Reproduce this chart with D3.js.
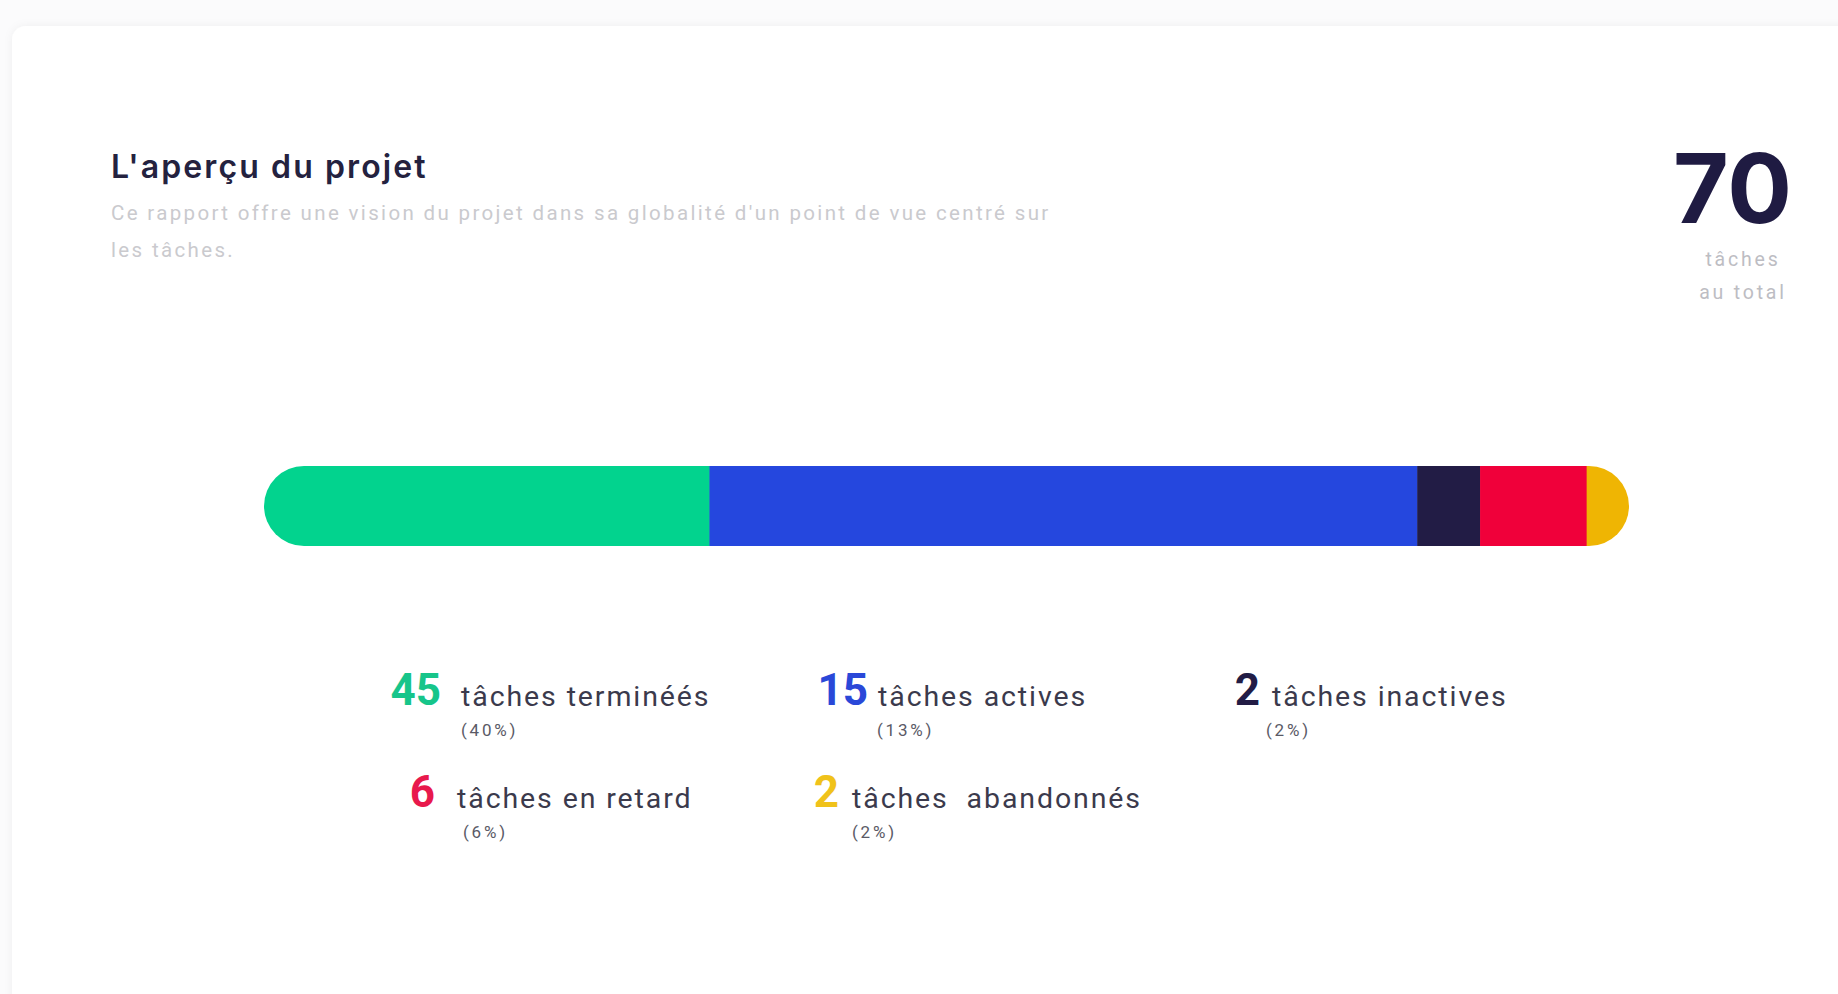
<!DOCTYPE html>
<html>
<head>
<meta charset="utf-8">
<script src="https://cdn.jsdelivr.net/npm/d3@7"></script>
<style>
  body { margin: 0; background: #fbfbfc; }
  svg { display: block; }
</style>
</head>
<body>
<svg id="chart" width="1838" height="994"></svg>
<script>
// data
var statusKeys   = ["done", "active", "inactive", "late", "dropped"];
var statusLabels = ["tâches terminéés", "tâches actives", "tâches inactives", "tâches en retard", "tâches  abandonnés"];
var statusCounts = [45, 15, 2, 6, 2];
var statusPct    = ["(40%)", "(13%)", "(2%)", "(6%)", "(2%)"];
// share of the bar each segment takes in the picture (in %)
var barShares    = [32.6, 51.8, 4.6, 7.8, 3.1];
var totalTasks   = 70;

var colors = {
  done: "#02d38e", active: "#2547de", inactive: "#221c45",
  late: "#f0003a", dropped: "#efb503"
};
var numColors = {
  done: "#17c58a", active: "#2a48d8", inactive: "#221c45",
  late: "#e8194c", dropped: "#f0c21a"
};

var svg = d3.select("#chart");

// card
var defs = svg.append("defs");
var f = defs.append("filter").attr("id", "shadow")
    .attr("x", "-5%").attr("y", "-5%").attr("width", "110%").attr("height", "110%");
f.append("feDropShadow").attr("dx", 0).attr("dy", 0).attr("stdDeviation", 4)
    .attr("flood-color", "#000").attr("flood-opacity", 0.05);

svg.append("rect")
    .attr("x", 12).attr("y", 26).attr("width", 1900).attr("height", 1100)
    .attr("rx", 14).attr("fill", "#fff").attr("filter", "url(#shadow)");

// header
svg.append("text")
    .attr("x", 111).attr("y", 178)
    .attr("font-family", "Inter, 'DejaVu Sans', sans-serif")
    .attr("font-size", 32).attr("font-weight", 600).attr("letter-spacing", 2.1)
    .attr("fill", "#24223f")
    .text("L'aperçu du projet");

var sub = svg.append("text")
    .attr("font-family", "Roboto, 'Liberation Sans', sans-serif")
    .attr("font-size", 20.5).attr("letter-spacing", 2.35)
    .attr("fill", "#cacace");
sub.append("tspan").attr("x", 111).attr("y", 220)
    .text("Ce rapport offre une vision du projet dans sa globalité d'un point de vue centré sur");
sub.append("tspan").attr("x", 111).attr("y", 257).text("les tâches.");

// total
svg.append("text")
    .attr("x", 1792).attr("y", 223).attr("text-anchor", "end")
    .attr("font-family", "Inter, 'DejaVu Sans', sans-serif")
    .attr("font-size", 96).attr("font-weight", 700)
    .attr("fill", "#1f1b42")
    .text(totalTasks);

var tot = svg.append("text")
    .attr("text-anchor", "middle")
    .attr("font-family", "Roboto, 'Liberation Sans', sans-serif")
    .attr("font-size", 19.5).attr("letter-spacing", 2.8)
    .attr("fill", "#bdbdc3");
tot.append("tspan").attr("x", 1743).attr("y", 266).text("tâches");
tot.append("tspan").attr("x", 1743).attr("y", 299).text("au total");

// stacked bar
var barTop = 466, barH = 80;
var x = d3.scaleLinear().domain([0, d3.sum(barShares)]).range([264, 1629]);

var stacked = [];
var acc = 0;
barShares.forEach(function (v, i) {
    stacked.push({ key: statusKeys[i], x0: acc, x1: acc + v });
    acc += v;
});

defs.append("clipPath").attr("id", "barClip")
  .append("rect")
    .attr("x", x(0)).attr("y", barTop)
    .attr("width", x(acc) - x(0)).attr("height", barH)
    .attr("rx", barH / 2);

svg.append("g").attr("clip-path", "url(#barClip)")
  .selectAll("rect").data(stacked).enter().append("rect")
    .attr("x", function (d) { return x(d.x0); })
    .attr("y", barTop)
    .attr("width", function (d) { return x(d.x1) - x(d.x0) + 0.5; })
    .attr("height", barH)
    .attr("fill", function (d) { return colors[d.key]; });

// legend layout (number right edge, label left, pct left, row)
var legendLayout = [
    { numEnd: 441,  labelX: 461,  pctX: 461,  row: 0 },
    { numEnd: 868,  labelX: 878,  pctX: 877,  row: 0 },
    { numEnd: 1260, labelX: 1272, pctX: 1266, row: 0 },
    { numEnd: 435,  labelX: 457,  pctX: 463,  row: 1 },
    { numEnd: 839,  labelX: 852,  pctX: 852,  row: 1 }
];
var rowY = [705, 807];

var items = svg.append("g").selectAll("g")
    .data(statusKeys).enter().append("g");

items.append("text")
    .attr("x", function (d, i) { return legendLayout[i].numEnd; })
    .attr("y", function (d, i) { return rowY[legendLayout[i].row]; })
    .attr("text-anchor", "end")
    .attr("font-family", "Roboto, 'DejaVu Sans', sans-serif")
    .attr("font-size", 44).attr("font-weight", 700)
    .attr("fill", function (d) { return numColors[d]; })
    .text(function (d, i) { return statusCounts[i]; });

items.append("text")
    .attr("x", function (d, i) { return legendLayout[i].labelX; })
    .attr("y", function (d, i) { return rowY[legendLayout[i].row] + 1; })
    .attr("font-family", "Roboto, 'Liberation Sans', sans-serif")
    .attr("font-size", 28.5).attr("letter-spacing", 1.9)
    .attr("fill", "#3b3a4c")
    .style("white-space", "pre")
    .text(function (d, i) { return statusLabels[i]; });

items.append("text")
    .attr("x", function (d, i) { return legendLayout[i].pctX; })
    .attr("y", function (d, i) { return rowY[legendLayout[i].row] + 31; })
    .attr("font-family", "Roboto, 'Liberation Sans', sans-serif")
    .attr("font-size", 17).attr("letter-spacing", 2.8)
    .attr("fill", "#5a5a66")
    .text(function (d, i) { return statusPct[i]; });
</script>
</body>
</html>
